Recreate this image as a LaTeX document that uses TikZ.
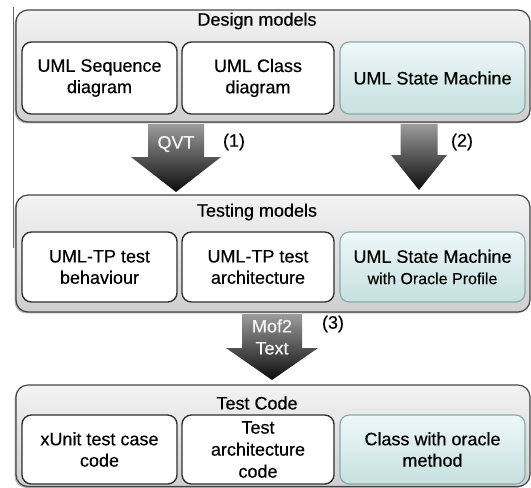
\documentclass[tikz,border=0pt]{standalone}
\usepackage{fontspec}
\setmainfont{Liberation Sans}[FakeBold=0.35]
\usetikzlibrary{fit,shadows}

\definecolor{panelTop}{HTML}{F3F3F3}
\definecolor{panelBot}{HTML}{CFCFCF}
\definecolor{panelLine}{HTML}{454545}
\definecolor{boxLine}{HTML}{2E2E2E}
\definecolor{tealTop}{HTML}{EEF8F8}
\definecolor{tealBot}{HTML}{C6E0E0}
\definecolor{tealLine}{HTML}{88AAAA}
\definecolor{arrowTop}{HTML}{9C9C9C}
\definecolor{arrowBot}{HTML}{0C0C0C}
\definecolor{arrowText}{HTML}{F6F6F6}
\definecolor{ruleGray}{HTML}{666666}

\tikzset{
  panel/.style={draw=panelLine, line width=0.9pt, rounded corners=9pt,
    top color=panelTop, bottom color=panelBot, inner sep=0pt,
    drop shadow={shadow xshift=-1.1pt, shadow yshift=-1.1pt, fill=black!50, opacity=0.6}},
  paneltitle/.style={font=\fontsize{13.5}{16}\selectfont, text=black},
  modelbox/.style={draw=boxLine, line width=1pt, rounded corners=7pt,
    fill=white, inner sep=0pt},
  tealbox/.style={draw=tealLine, line width=0.9pt, rounded corners=7pt,
    top color=tealTop, bottom color=tealBot, inner sep=0pt},
  boxtext/.style={font=\fontsize{13.5}{16}\selectfont, align=center, text=black, inner sep=0pt},
  fatarrow/.style={top color=arrowTop, bottom color=arrowBot, draw=none},
  arrowlabel/.style={font=\fontsize{13.5}{16.5}\selectfont, text=arrowText, align=center},
  steplabel/.style={font=\fontsize{13.5}{16}\selectfont, text=black}
}

% block arrow: centre x, shaft half width, shaft top, head top, head half width, tip
\newcommand\blockarrow[6]{%
  \shade[fatarrow] (#1-#2,#3) -- (#1+#2,#3) -- (#1+#2,#4) -- (#1+#5,#4)
    -- (#1,#6) -- (#1-#5,#4) -- (#1-#2,#4) -- cycle;}

\begin{document}
\begin{tikzpicture}[x=0.75pt,y=-0.75pt]
\useasboundingbox (0,0) rectangle (531,487);

% thin rule on the left margin
\coordinate (ruletop) at (13,7);
\coordinate (rulebot) at (13,248);
\draw[ruleGray, line width=0.6pt] (ruletop) -- (rulebot);

% ---- Design models ----
\node[panel, fit={(16,10) (530,122)}] (design) {};
\node[paneltitle] (designT) at (257,21) {Design models};
\node[modelbox, fit={(22,42) (177,114)}] (seq) {};
\node[modelbox, fit={(182,42) (334,114)}] (cls) {};
\node[tealbox, fit={(340,42) (525,114)}] (sm) {};
\node[boxtext] (seqT) at (seq.center) {UML Sequence\\diagram};
\node[boxtext] (clsT) at (cls.center) {UML Class\\diagram};
\node[boxtext] (smT) at (sm.center) {UML State Machine};

% ---- transformations (1) and (2) ----
\blockarrow{176}{28}{124}{157}{45}{192}
\node[arrowlabel] (qvt) at (176,144) {QVT};
\node[steplabel] (s1) at (234,142) {(1)};
\blockarrow{419}{18.5}{124}{155}{28}{190}
\node[steplabel] (s2) at (462,142) {(2)};

% ---- Testing models ----
\node[panel, fit={(16,195) (530,312)}] (testing) {};
\node[paneltitle] (testingT) at (257,212) {Testing models};
\node[modelbox, fit={(22,232) (177,302)}] (tpb) {};
\node[modelbox, fit={(182,232) (334,302)}] (tpa) {};
\node[tealbox, fit={(340,232) (525,302)}] (smo) {};
\node[boxtext] (tpbT) at (tpb.center) {UML-TP test\\behaviour};
\node[boxtext] (tpaT) at (tpa.center) {UML-TP test\\architecture};
\node[boxtext] (smoT) at (smo.center)
  {UML State Machine\\{\fontsize{12}{15}\selectfont with Oracle Profile}};

% ---- transformation (3) ----
\blockarrow{272}{30}{314}{348}{46}{380}
\node[arrowlabel] (mof) at (272,337) {Mof2\\Text};
\node[steplabel] (s3) at (333,324) {(3)};

% ---- Test Code ----
\node[panel, fit={(16,385) (530,486.5)}] (code) {};
\node[paneltitle] (codeT) at (257,403) {Test Code};
\node[modelbox, fit={(22,415) (177,484)}] (xu) {};
\node[modelbox, fit={(182,415) (334,484)}] (tac) {};
\node[tealbox, fit={(340,415) (525,484)}] (orc) {};
\node[boxtext] (xuT) at (xu.center) {xUnit test case\\code};
\node[boxtext, font=\fontsize{13.5}{16.5}\selectfont] (tacT) at (tac.center)
  {Test\\architecture\\code};
\node[boxtext] (orcT) at (orc.center) {Class with oracle\\method};
\end{tikzpicture}
\end{document}
